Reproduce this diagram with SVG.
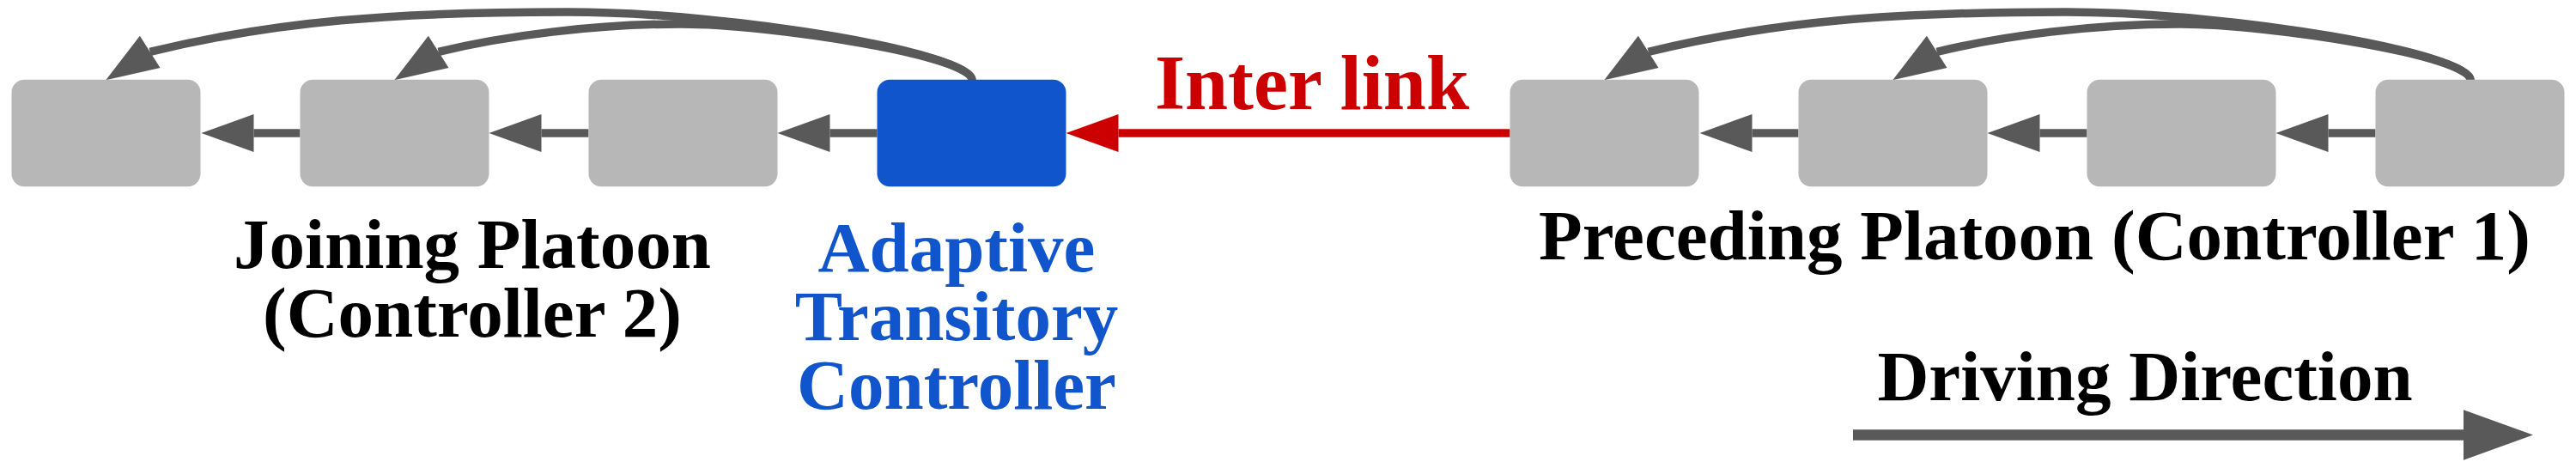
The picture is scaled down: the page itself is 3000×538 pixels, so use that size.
<svg xmlns="http://www.w3.org/2000/svg" width="3000" height="538" viewBox="0 0 3000 538">
<defs>
<style>
.car{fill:#B7B7B7}
.atc{fill:#1155CC}
.ln{fill:none;stroke:#595959;stroke-width:9.5}
.rd{fill:none;stroke:#CC0000;stroke-width:9.5}
.dd{fill:none;stroke:#595959;stroke-width:12.5}
.t{font-family:"Liberation Serif","Times New Roman",serif;font-weight:bold;font-size:83px;text-anchor:middle}
</style>
<marker id="ah" markerUnits="userSpaceOnUse" viewBox="0 -22 61 44" refX="0" refY="0" markerWidth="61" markerHeight="44" orient="auto" overflow="visible"><path d="M0,-22 L61,0 L0,22 z" fill="#595959"/></marker>
<marker id="ahc" markerUnits="userSpaceOnUse" viewBox="0 -22 61 44" refX="0" refY="0" markerWidth="61" markerHeight="44" orient="147.5" overflow="visible"><path d="M0,-22 L61,0 L0,22 z" fill="#595959"/></marker>
<marker id="ahr" markerUnits="userSpaceOnUse" viewBox="0 -22 61 44" refX="0" refY="0" markerWidth="61" markerHeight="44" orient="auto" overflow="visible"><path d="M0,-22 L61,0 L0,22 z" fill="#CC0000"/></marker>
<marker id="ahb" markerUnits="userSpaceOnUse" viewBox="0 -29.2 81 58.4" refX="0" refY="0" markerWidth="81" markerHeight="58.4" orient="auto" overflow="visible"><path d="M0,-29.2 L81,0 L0,29.2 z" fill="#595959"/></marker>
</defs>
<rect width="3000" height="538" fill="#FFFFFF"/>

<g id="connectors">
  <g id="joining-links">
    <path class="ln" d="M349.5,155 L295.5,155" marker-end="url(#ah)"/>
    <path class="ln" d="M685.5,155 L630.5,155" marker-end="url(#ah)"/>
    <path class="ln" d="M1021.5,155 L966.5,155" marker-end="url(#ah)"/>
    <path class="ln" d="M1132,93 C1132,63 860,14 660,14 C460,14 320.5,24.75 174.7,60.35" marker-end="url(#ahc)"/>
    <path class="ln" d="M1132,93 C1132,65 900,28 793,28 C693,28 588.3,41.5 510.7,60.35" marker-end="url(#ahc)"/>
  </g>
  <path id="inter-link" class="rd" d="M1758.5,155 L1302.5,155" marker-end="url(#ahr)"/>
  <g id="preceding-links" transform="translate(1745 0)">
    <path class="ln" d="M349.5,155 L295.5,155" marker-end="url(#ah)"/>
    <path class="ln" d="M685.5,155 L630.5,155" marker-end="url(#ah)"/>
    <path class="ln" d="M1021.5,155 L966.5,155" marker-end="url(#ah)"/>
    <path class="ln" d="M1132,93 C1132,63 860,14 660,14 C460,14 320.5,24.75 174.7,60.35" marker-end="url(#ahc)"/>
    <path class="ln" d="M1132,93 C1132,65 900,28 793,28 C693,28 588.3,41.5 510.7,60.35" marker-end="url(#ahc)"/>
  </g>
  <path id="driving-direction-arrow" class="dd" d="M2158,506.5 L2869,506.5" marker-end="url(#ahb)"/>
</g>

<g id="joining-car-1"><rect class="car" x="13.5" y="92.7" width="220" height="124.6" rx="15"/></g>
<g id="joining-car-2"><rect class="car" x="349.5" y="92.7" width="220" height="124.6" rx="15"/></g>
<g id="joining-car-3"><rect class="car" x="685.5" y="92.7" width="220" height="124.6" rx="15"/></g>
<g id="adaptive-transitory-vehicle"><rect class="atc" x="1021.5" y="92.7" width="220" height="124.6" rx="15"/></g>
<g id="preceding-car-1"><rect class="car" x="1758.5" y="92.7" width="220" height="124.6" rx="15"/></g>
<g id="preceding-car-2"><rect class="car" x="2094.5" y="92.7" width="220" height="124.6" rx="15"/></g>
<g id="preceding-car-3"><rect class="car" x="2430.5" y="92.7" width="220" height="124.6" rx="15"/></g>
<g id="preceding-car-4"><rect class="car" x="2766.5" y="92.7" width="220" height="124.6" rx="15"/></g>

<g id="label-inter-link"><text class="t" x="1528" y="127" style="font-size:90px" fill="#CC0000">Inter link</text></g>
<g id="label-joining">
  <text class="t" x="550" y="312" fill="#000000">Joining Platoon</text>
  <text class="t" x="550" y="392" fill="#000000">(Controller 2)</text>
</g>
<g id="label-atc">
  <text class="t" x="1114" y="316" fill="#1155CC">Adaptive</text>
  <text class="t" x="1114" y="396" fill="#1155CC">Transitory</text>
  <text class="t" x="1114" y="476" fill="#1155CC">Controller</text>
</g>
<g id="label-preceding"><text class="t" x="2369.5" y="302" fill="#000000">Preceding Platoon (Controller 1)</text></g>
<g id="label-driving"><text class="t" x="2498" y="466" fill="#000000">Driving Direction</text></g>
</svg>
